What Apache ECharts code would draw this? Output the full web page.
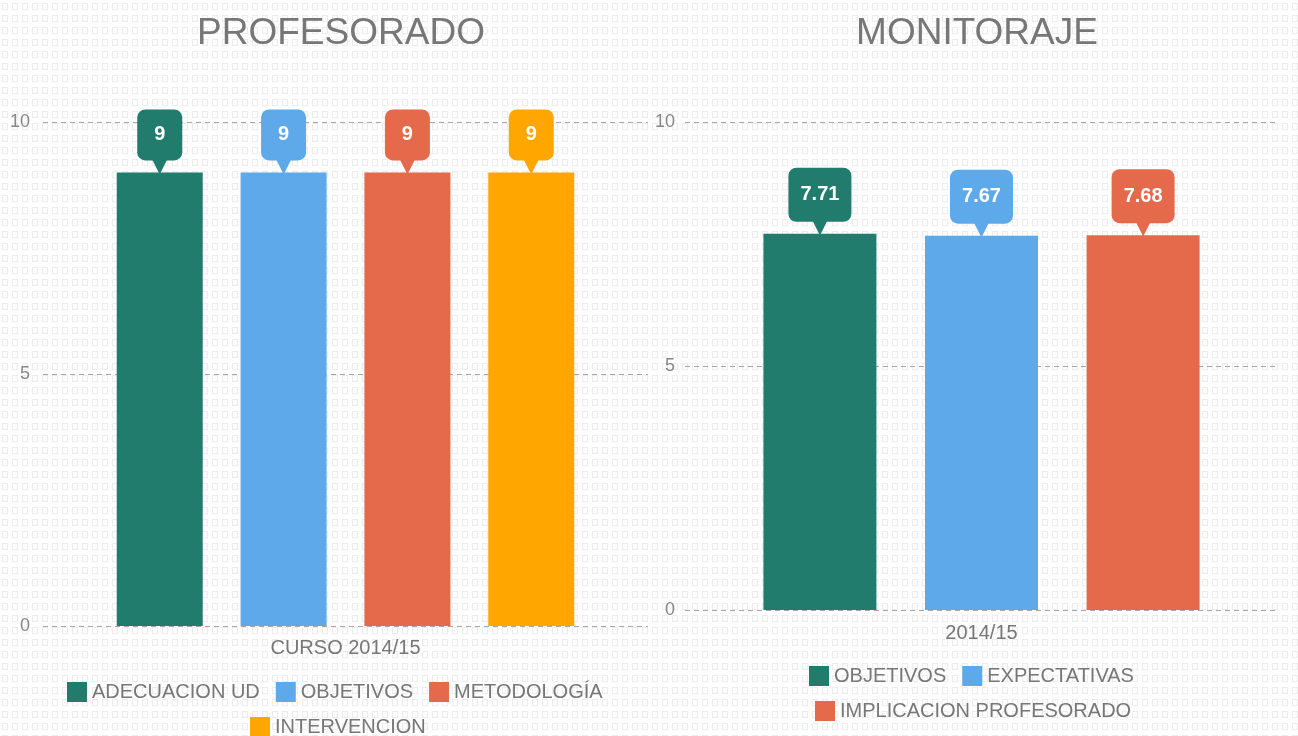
<!DOCTYPE html>
<html>
<head>
<meta charset="utf-8">
<script src="https://cdn.jsdelivr.net/npm/echarts@6/dist/echarts.min.js"></script>
<style>
html,body{margin:0;padding:0;background:#fafafa;}
#c{width:1298px;height:736px;}
</style>
</head>
<body>
<div id="c"></div>
<script>
// ---- data ----
const profTitle = 'PROFESORADO';
const profCategories = ['CURSO 2014/15'];
const profNames = ['ADECUACION UD', 'OBJETIVOS', 'METODOLOGÍA', 'INTERVENCION'];
const profValues = [9, 9, 9, 9];

const monTitle = 'MONITORAJE';
const monCategories = ['2014/15'];
const monNames = ['OBJETIVOS', 'EXPECTATIVAS', 'IMPLICACION PROFESORADO'];
const monValues = [7.71, 7.67, 7.68];

const yTicks = { min: 0, max: 10, interval: 5 };

// ---- styles ----
const profColors = ['#217c6e', '#5ea9ea', '#e5694b', '#ffa600'];
const monColors = ['#217c6e', '#5ea9ea', '#e5694b'];
const FONT = 'Liberation Sans, Arial, sans-serif';
const TXT = '#777';

// background pattern
const tile = document.createElement('canvas');
tile.width = 10; tile.height = 12;
const tc = tile.getContext('2d');
tc.fillStyle = '#fdfdfd'; tc.fillRect(0, 0, 10, 12);
tc.strokeStyle = '#ececec'; tc.lineWidth = 1;
tc.strokeRect(2.5, 3.5, 5, 6);

function labelFor(color, w, h) {
  return {
    show: true, position: 'top', distance: 0,
    formatter: p => '{b|' + p.value + '}\n{a|▼}',
    rich: {
      b: { backgroundColor: color, color: '#fff', borderRadius: 8, width: w, height: h,
           lineHeight: h, align: 'center', fontSize: 20, fontWeight: 'bold', fontFamily: FONT },
      a: { color: color, fontSize: 20, lineHeight: 12, align: 'center', fontFamily: 'DejaVu Sans' }
    }
  };
}

const series = [];
profNames.forEach((n, i) => {
  series.push({
    type: 'bar', name: n + '#p', xAxisIndex: 0, yAxisIndex: 0,
    data: [profValues[i]], barWidth: 86, barGap: '44%',
    itemStyle: { color: profColors[i] },
    label: labelFor(profColors[i], 45, 51)
  });
});
monNames.forEach((n, i) => {
  series.push({
    type: 'bar', name: n + '#m', xAxisIndex: 1, yAxisIndex: 1,
    data: [monValues[i]], barWidth: 113, barGap: '43%',
    itemStyle: { color: monColors[i] },
    label: labelFor(monColors[i], 63, 54)
  });
});

function yAxis(gi, margin) {
  return {
    type: 'value', gridIndex: gi, min: yTicks.min, max: yTicks.max, interval: yTicks.interval,
    axisLine: { show: false }, axisTick: { show: false },
    axisLabel: { color: '#888', fontSize: 18, fontFamily: FONT, margin: margin },
    splitLine: { lineStyle: { type: [5, 4], color: '#a5a5a5', width: 1 } }
  };
}
function xAxis(gi, cats, margin) {
  return {
    type: 'category', gridIndex: gi, data: cats,
    axisLine: { show: false }, axisTick: { show: false },
    axisLabel: { color: TXT, fontSize: 20, fontFamily: FONT, margin: margin }
  };
}
const legendBase = {
  itemWidth: 20, itemHeight: 20, itemGap: 16, icon: 'rect', orient: 'horizontal',
  textStyle: { color: TXT, fontSize: 20, fontFamily: FONT },
  formatter: n => n.replace(/#.*$/, ''),
  selectedMode: false
};

const option = {
  backgroundColor: { image: tile, repeat: 'repeat' },
  animation: false,
  title: [
    { text: profTitle, left: 336, textAlign: 'center', top: 10,
      textStyle: { color: TXT, fontSize: 37, fontWeight: 'normal', fontFamily: FONT } },
    { text: monTitle, left: 972, textAlign: 'center', top: 10,
      textStyle: { color: TXT, fontSize: 37, fontWeight: 'normal', fontFamily: FONT } }
  ],
  grid: [
    { left: 43, right: 650, top: 122, bottom: 110 },
    { left: 685, right: 20, top: 122, bottom: 126 }
  ],
  xAxis: [xAxis(0, profCategories, 12), xAxis(1, monCategories, 13)],
  yAxis: [yAxis(0, 13), yAxis(1, 10)],
  legend: [
    Object.assign({}, legendBase, { left: 62, top: 677, data: profNames.slice(0, 3).map(n => n + '#p') }),
    Object.assign({}, legendBase, { left: 245, top: 712, data: profNames.slice(3).map(n => n + '#p') }),
    Object.assign({}, legendBase, { left: 804, top: 661, data: monNames.slice(0, 2).map(n => n + '#m') }),
    Object.assign({}, legendBase, { left: 810, top: 696, data: monNames.slice(2).map(n => n + '#m') })
  ],
  series: series
};

const chart = echarts.init(document.getElementById('c'), null, { renderer: 'canvas' });
chart.setOption(option);
</script>
</body>
</html>
